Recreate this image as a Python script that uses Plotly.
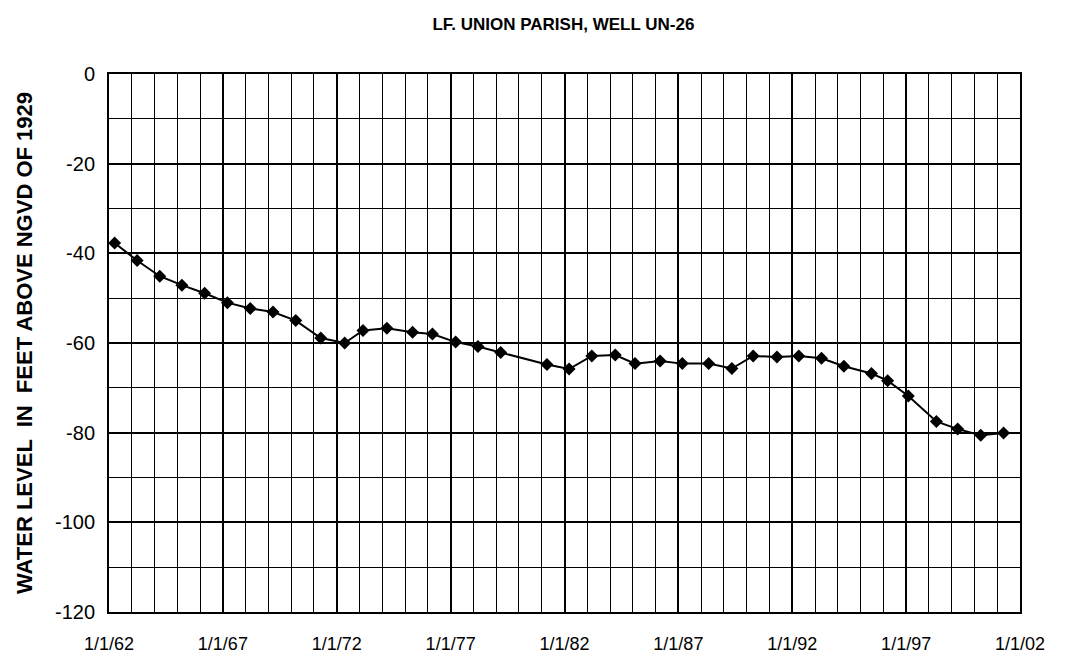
import plotly.graph_objects as go

# Measurement dates and water levels (feet above NGVD of 1929)
dates = [
    "1962-04-01", "1963-03-28", "1964-03-25", "1965-03-15", "1966-03-15",
    "1967-03-15", "1968-03-15", "1969-03-15", "1970-03-15", "1971-04-20",
    "1972-05-08", "1973-02-25", "1974-03-15", "1975-05-01", "1976-03-15",
    "1977-03-22", "1978-03-15", "1979-03-15", "1981-03-25", "1982-03-15",
    "1983-03-15", "1984-03-25", "1985-02-05", "1986-03-15", "1987-03-05",
    "1988-05-01", "1989-05-08", "1990-04-15", "1991-05-01", "1992-04-15",
    "1993-04-15", "1994-04-08", "1995-06-25", "1996-03-10", "1997-02-05",
    "1998-05-01", "1999-04-08", "2000-04-12", "2001-04-12",
]
levels = [
    -37.7, -41.6, -45.1, -47.1, -48.9,
    -51.0, -52.3, -53.1, -55.0, -58.9,
    -60.0, -57.2, -56.7, -57.6, -58.0,
    -59.8, -60.8, -62.1, -64.8, -65.8,
    -62.9, -62.7, -64.6, -64.0, -64.6,
    -64.6, -65.7, -62.9, -63.1, -62.9,
    -63.4, -65.2, -66.8, -68.4, -71.8,
    -77.5, -79.2, -80.6, -80.1,
]

x_tick_vals = ["1962-01-01", "1967-01-01", "1972-01-01", "1977-01-01", "1982-01-01",
               "1987-01-01", "1992-01-01", "1997-01-01", "2002-01-01"]
x_tick_labels = ["1/1/62", "1/1/67", "1/1/72", "1/1/77", "1/1/82",
                 "1/1/87", "1/1/92", "1/1/97", "1/1/02"]
y_tick_vals = [0, -20, -40, -60, -80, -100, -120]
y_tick_labels = ["0", "-20", "-40", "-60", "-80", "-100", "-120"]

title_text = "LF. UNION PARISH, WELL UN-26"
y_title_text = "WATER LEVEL  IN  FEET ABOVE NGVD OF 1929"

FONT = "Liberation Sans, Arial, sans-serif"

fig = go.Figure()
fig.add_trace(go.Scatter(
    x=dates, y=levels, mode="lines+markers",
    line=dict(color="black", width=2),
    marker=dict(symbol="diamond", size=10, color="black"),
    showlegend=False,
))

fig.update_layout(
    width=1065, height=658,
    margin=dict(l=101, r=53, t=66, b=52),
    paper_bgcolor="white", plot_bgcolor="white",
    font=dict(family=FONT, color="black", size=18),
    title=dict(text="<b>" + title_text + "</b>", x=0.5215, xanchor="center",
               y=0.975, yanchor="middle", font=dict(size=17, family=FONT, color="black")),
)

fig.add_annotation(
    text="<b>" + y_title_text + "</b>", textangle=-90,
    xref="paper", yref="paper", x=0, y=0.5, xanchor="center", yanchor="middle",
    xshift=-85, showarrow=False, font=dict(size=22, family=FONT, color="black"),
)

fig.update_xaxes(
    type="date", range=["1962-01-01", "2002-01-01"],
    tickvals=x_tick_vals, ticktext=x_tick_labels,
    showgrid=True, gridcolor="black", gridwidth=2,
    minor=dict(dtick="M12", tick0="1962-01-01", showgrid=True, gridcolor="black", gridwidth=1),
    showline=True, linecolor="black", linewidth=2, mirror=True,
    ticks="", ticklabelstandoff=14, zeroline=False,
    tickfont=dict(size=18, family=FONT),
)
fig.update_yaxes(
    range=[-120, 0], tickvals=y_tick_vals, ticktext=y_tick_labels,
    showgrid=True, gridcolor="black", gridwidth=2,
    minor=dict(dtick=10, tick0=0, showgrid=True, gridcolor="black", gridwidth=1),
    showline=True, linecolor="black", linewidth=2, mirror=True,
    ticks="", ticklabelstandoff=8, zeroline=False,
    tickfont=dict(size=20, family=FONT),
)

fig.write_html("out.html")
